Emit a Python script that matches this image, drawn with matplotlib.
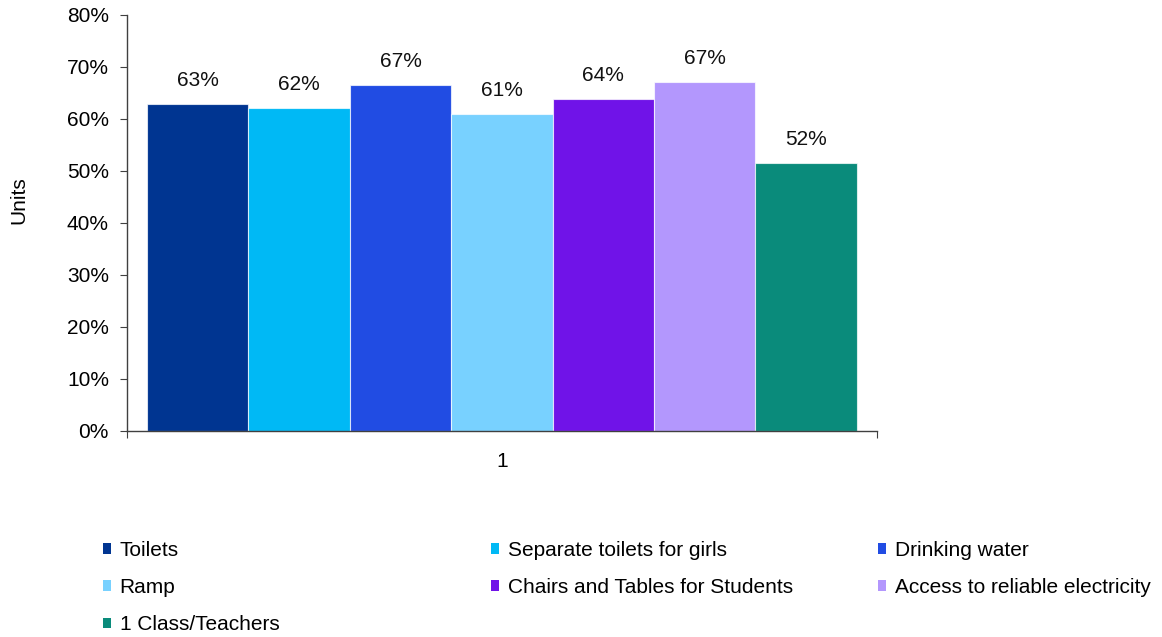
import matplotlib.pyplot as plt
from matplotlib.patches import Patch
from matplotlib.ticker import PercentFormatter

plt.rcParams['font.family'] = ['Liberation Sans', 'DejaVu Sans']

categories = ['1']
series = ['Toilets', 'Separate toilets for girls', 'Drinking water', 'Ramp',
          'Chairs and Tables for Students', 'Access to reliable electricity',
          '1 Class/Teachers']
values = [0.629, 0.621, 0.666, 0.609, 0.638, 0.671, 0.515]
labels = ['63%', '62%', '67%', '61%', '64%', '67%', '52%']
colors = ['#003591', '#00B9F5', '#214CE3', '#78D1FF', '#7013E8', '#B397FD', '#0A8B7B']

fig = plt.figure(figsize=(11.62, 6.37), dpi=100)
ax = fig.add_axes([0.1093, 0.3234, 0.6454, 0.6531])

n = len(series)
bar_w = 0.1352
for i, (name, v, c, lab) in enumerate(zip(series, values, colors, labels)):
    x = 1 + (i - (n - 1) / 2) * bar_w
    ax.bar(x, v, width=bar_w, color=c, edgecolor=(1, 1, 1, 0.7), linewidth=0.8)
    ax.annotate(lab, (x, v), xytext=(0, 10), textcoords='offset points',
                ha='center', va='bottom', fontsize=15, color='#111111')

ax.set_xlim(0.5, 1.5)
ax.set_ylim(0, 0.8)
ax.set_yticks([i / 10 for i in range(9)])
ax.yaxis.set_major_formatter(PercentFormatter(1.0, decimals=0))
ax.set_xticks([0.5, 1.5], labels=['', ''])
ax.set_xticks([1], labels=categories, minor=True)
ax.tick_params(axis='x', which='minor', length=0, pad=15, labelsize=15)
ax.tick_params(axis='x', which='major', length=5, direction='out', color='#404040')
ax.tick_params(axis='y', length=5, pad=8, labelsize=15, color='#404040')

for s in ['top', 'right']:
    ax.spines[s].set_visible(False)
for s in ['left', 'bottom']:
    ax.spines[s].set_color('#404040')
    ax.spines[s].set_linewidth(1)

ax.set_ylabel('Units', fontsize=15)
ax.yaxis.set_label_coords(-0.132, 0.556)

# legend in three columns with fixed starts
handles = [Patch(facecolor=c, edgecolor='none') for c in colors]
col_groups = [[0, 3, 6], [1, 4], [2, 5]]
col_x = [103, 491, 878]
for idxs, x0 in zip(col_groups, col_x):
    fig.legend([handles[i] for i in idxs], [series[i] for i in idxs],
               loc='upper left', bbox_to_anchor=(x0 / 1162, 1 - 541 / 637),
               frameon=False, fontsize=15, handlelength=0.4, handleheight=0.4,
               handletextpad=0.4, labelspacing=0.87, borderpad=0, borderaxespad=0)

fig.savefig('out.png', dpi=100)
